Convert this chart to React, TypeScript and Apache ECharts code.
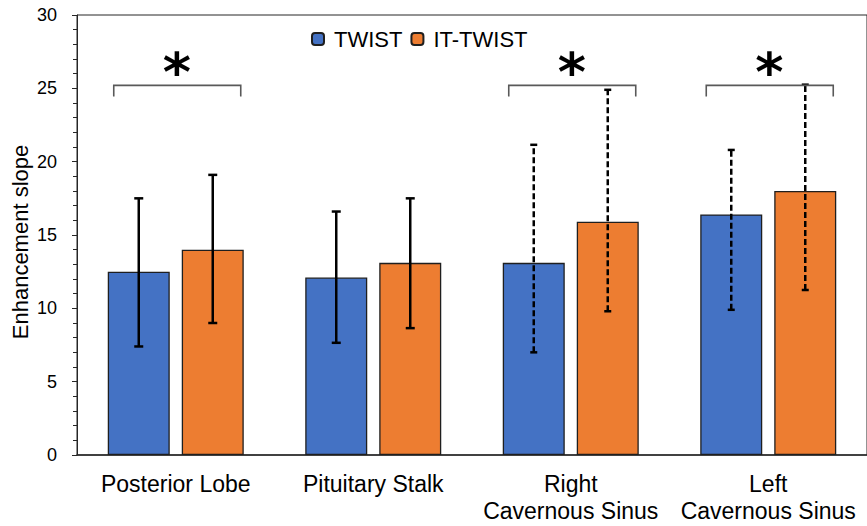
import React, { useEffect, useRef } from "react";
import * as echarts from "echarts";

// Regions measured and the mean enhancement slope for each sequence
const categories = [
  "Posterior Lobe",
  "Pituitary Stalk",
  "Right\nCavernous Sinus",
  "Left\nCavernous Sinus",
];
const seriesNames = ["TWIST", "IT-TWIST"];
const twistMean = [12.5, 12.1, 13.1, 16.4];
const itTwistMean = [14.0, 13.1, 15.9, 18.0];

// Error bar extents (lower / upper)
const twistLow = [7.4, 7.65, 7.0, 9.9];
const twistHigh = [17.5, 16.6, 21.15, 20.8];
const itTwistLow = [9.0, 8.65, 9.8, 11.25];
const itTwistHigh = [19.1, 17.5, 24.9, 25.25];
// Cavernous sinus error bars are drawn dashed
const dashedError = [false, false, true, true];

// Significance brackets: category index and bracket level
const significantIdx = [0, 2, 3];
const bracketLevel = 25.2;

const yTicks = { min: 0, max: 30, interval: 5 };

const BAR_W = 62;
const BAR_GAP_PX = 12;
const HALF_STEP = (BAR_W + BAR_GAP_PX) / 2;

function errorRenderer(offset: number) {
  return (params: any, api: any) => {
    const idx = api.value(0);
    const lo = api.coord([idx, api.value(1)]);
    const hi = api.coord([idx, api.value(2)]);
    const x = lo[0] + offset;
    const dashed = dashedError[params.dataIndex];
    const cap = dashed ? 3.5 : 4.5;
    const stem: any = { stroke: "#000", lineWidth: 2.5 };
    if (dashed) stem.lineDash = [6, 3];
    const capStyle = { stroke: "#000", lineWidth: 2.5 };
    return {
      type: "group",
      children: [
        { type: "line", shape: { x1: x, y1: lo[1], x2: x, y2: hi[1] }, style: stem },
        { type: "line", shape: { x1: x - cap, y1: hi[1], x2: x + cap, y2: hi[1] }, style: capStyle },
        { type: "line", shape: { x1: x - cap, y1: lo[1], x2: x + cap, y2: lo[1] }, style: capStyle },
      ],
    };
  };
}

function bracketRenderer(params: any, api: any) {
  const p = api.coord([api.value(0), api.value(1)]);
  const cx = p[0];
  const y = p[1];
  const left = cx - 62;
  const right = cx + 65;
  return {
    type: "group",
    children: [
      {
        type: "polyline",
        shape: { points: [[left, y + 11], [left, y], [right, y], [right, y + 11]] },
        style: { stroke: "#595959", lineWidth: 1.6, fill: null },
      },
      {
        type: "text",
        x: cx + 1,
        y: y - 13,
        style: {
          text: "*",
          fontFamily: "DejaVu Sans",
          fontWeight: "bold",
          fontSize: 54,
          fill: "#000",
          align: "center",
          verticalAlign: "middle",
        },
      },
    ],
  };
}

export default function App() {
  const ref = useRef<HTMLDivElement>(null);

  useEffect(() => {
    if (!ref.current) return;
    const chart = echarts.init(ref.current, null, { renderer: "svg" });
    const font = "Liberation Sans";
    chart.setOption({
      animation: false,
      backgroundColor: "#fff",
      textStyle: { fontFamily: font },
      legend: {
        data: seriesNames,
        left: 306,
        top: 23,
        itemWidth: 12,
        itemHeight: 12,
        itemGap: 8,
        textStyle: { fontSize: 22, color: "#000", fontFamily: font, padding: [0, 0, 0, 5] },
      },
      grid: {
        left: 77,
        top: 15,
        width: 792,
        bottom: 71,
        show: true,
        borderColor: "#262626",
        borderWidth: 1,
        backgroundColor: "transparent",
      },
      graphic: [
        {
          type: "text",
          x: 20,
          y: 242,
          rotation: Math.PI / 2,
          style: {
            text: "Enhancement slope",
            fontSize: 22,
            fontFamily: font,
            fill: "#000",
            align: "center",
            verticalAlign: "middle",
          },
        },
      ],
      xAxis: {
        type: "category",
        data: categories,
        axisLine: { lineStyle: { color: "#262626", width: 1.5 } },
        axisTick: { show: false },
        axisLabel: {
          interval: 0,
          fontSize: 23,
          lineHeight: 27,
          margin: 15,
          color: "#000",
          fontFamily: font,
        },
      },
      yAxis: {
        type: "value",
        min: yTicks.min,
        max: yTicks.max,
        interval: yTicks.interval,
        axisLine: { show: true, lineStyle: { color: "#262626", width: 1 } },
        axisTick: { show: true, length: 5, lineStyle: { color: "#262626" } },
        minorTick: { show: true, splitNumber: 5, length: 4, lineStyle: { color: "#262626" } },
        splitLine: { show: false },
        axisLabel: { fontSize: 18, margin: 20, color: "#000", fontFamily: font },
      },
      series: [
        {
          name: seriesNames[0],
          type: "bar",
          data: twistMean,
          barWidth: BAR_W,
          barGap: `${(BAR_GAP_PX / BAR_W) * 100}%`,
          itemStyle: { color: "#4472C4", borderColor: "#1f1f1f", borderWidth: 1.3 },
        },
        {
          name: seriesNames[1],
          type: "bar",
          data: itTwistMean,
          barWidth: BAR_W,
          barGap: `${(BAR_GAP_PX / BAR_W) * 100}%`,
          itemStyle: { color: "#ED7D31", borderColor: "#1f1f1f", borderWidth: 1.3 },
        },
        {
          type: "custom",
          name: "twist-error",
          z: 5,
          data: categories.map((_, i) => [i, twistLow[i], twistHigh[i]]),
          encode: { x: 0, y: [1, 2] },
          renderItem: errorRenderer(-HALF_STEP),
          silent: true,
        },
        {
          type: "custom",
          name: "it-twist-error",
          z: 5,
          data: categories.map((_, i) => [i, itTwistLow[i], itTwistHigh[i]]),
          encode: { x: 0, y: [1, 2] },
          renderItem: errorRenderer(HALF_STEP),
          silent: true,
        },
        {
          type: "custom",
          name: "significance",
          z: 5,
          data: significantIdx.map((i) => [i, bracketLevel]),
          encode: { x: 0, y: 1 },
          renderItem: bracketRenderer,
          silent: true,
        },
      ],
    });
    return () => chart.dispose();
  }, []);

  return (
    <div
      ref={ref}
      style={{ position: "fixed", left: 0, top: 0, width: 867, height: 526 }}
    />
  );
}
